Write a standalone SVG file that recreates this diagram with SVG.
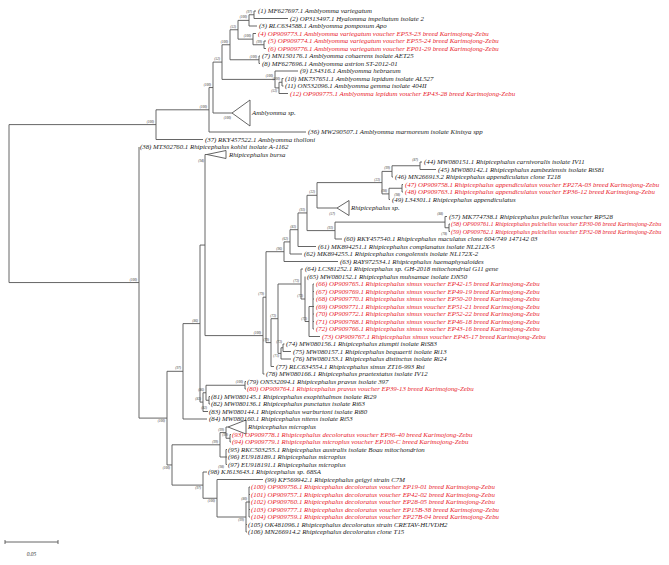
<svg xmlns="http://www.w3.org/2000/svg" width="669" height="565" viewBox="0 0 669 565">
<style>
.e{fill:none;stroke:#555;stroke-width:0.9}
.tri{fill:#fff;stroke:#555;stroke-width:0.9}
text{font-family:"Liberation Serif","Times New Roman",serif;font-style:italic}
.t{font-size:6.85px;fill:#222}
.r{font-size:6.85px;fill:#e8202a}
.r2{font-size:6.1px;fill:#e8202a}
.b{font-size:3.4px;fill:#333;text-anchor:end}
.s{font-size:5.5px;fill:#333;text-anchor:middle}
</style>
<rect width="669" height="565" fill="#fff"/>
<g id="connectors" class="e">
<path d="M9 124.6V282.55M9 124.6H156M156 109.8V139.5M156 139.5H203M156 109.8H209M209 87.55V132M209 132H306M209 87.55H213M213 62.1V113M213 113H232M213 62.1H222M222 44.75V79.4M222 44.75H230M230 29.75V59.75M230 29.75H238M238 20.375V39.125M238 20.375H249M249 14.75V26M249 26H257M249 14.75H254M254 11V18.5M254 11H256M254 18.5H288M238 39.125H253M253 33.5V44.75M253 33.5H256M253 44.75H264M264 41V48.5M264 41H266M264 48.5H266M230 59.75H259M259 56V63.5M259 56H260M259 63.5H260M222 79.4H275M275 71V87.9M275 71H298M275 87.9H279M279 82.25V93.5M279 93.5H288M279 82.25H282M282 78.5V86M282 78.5H283.5M282 86H283.5"/>
<path d="M9 282.55H139M139 147V418.1M139 418.1H167M167 371.3V464.95M167 371.3H183M183 323.6V419M183 419H207M183 323.6H200M200 245.05V402.1M200 245.05H205M205 154.5V335.6M205 154.5H207M205 335.6H263M263 297.2V374M263 374H264.5M263 297.2H266M266 251.7V342.6M266 251.7H284M284 241.9V261.5M284 261.5H338M284 241.9H290M290 229.7V254M290 254H302M290 229.7H298M298 212.95V246.5M298 246.5H316M298 212.95H307M307 195.3V230.6M307 195.3H317M317 182.6V208M317 208H337M317 182.6H382M382 171.4V193.9M382 171.4H392M392 165.75V177M392 177H393M392 165.75H420M420 162V169.5M420 162H422M420 169.5H436M382 193.9H389M389 188.25V199.5M389 199.5H390M389 188.25H402M402 184.5V192M402 184.5H403M402 192H403M307 230.6H335M335 222.1V239M335 239H342M335 222.1H445M445 216.5V227.75M445 216.5H447M445 227.75H449M449 224V231.5M449 224H450M449 231.5H450"/>
<path d="M266 342.6H271M271 318.7V366.5M271 366.5H274M271 318.7H278M278 284V353.4M278 284H301M301 269V299M301 269H303M301 299H305M305 276.5V321.5M305 321.5H309M309 306.5V336.5M309 336.5H320M309 306.5H313M313 284V329M313 284H314M313 291.5H314M313 299H314M313 306.5H314M313 314H314M313 321.5H314M313 329H314M278 353.4H281M281 347.75V359M281 359H291M281 347.75H283M283 344V351.5M283 344H284.5M283 351.5H291"/>
<path d="M200 402.1H203M203 392.75V411.5M203 411.5H208M203 392.75H206M206 385.25V400.25M206 385.25H245M245 381.5V389M245 381.5H246M245 389H246M206 400.25H209M209 396.5V404M209 396.5H210M209 404H210M167 464.95H172M172 444.8V485.1M172 444.8H220M220 432.6V457M220 432.6H226M226 427V438.25M226 427H228M226 438.25H230M230 434.5V442M230 434.5H231M230 442H231M220 457H226M226 449.5V464.5M226 449.5H227M226 457H227M226 464.5H227M172 485.1H203M203 472V498.25M203 472H207M203 498.25H217M217 479.5V517M217 479.5H263M217 517H246M246 502V532M246 524.5H247M246 532H247M246 502H249M249 487V517M249 487H250M249 494.5H250M249 502H250M249 509.5H250M249 517H250"/>
</g>
<g id="collapsed">
<polygon id="amblyomma-sp" class="tri" points="232,113 250,100 250,126"/>
<polygon id="bursa" class="tri" points="207,154.5 226,150.5 226,158.5"/>
<polygon id="rhip-sp" class="tri" points="337,208 349,200.5 349,215.5"/>
<polygon id="microplus" class="tri" points="228,427 246,420 246,434"/>
</g>
<g id="leaves">
<text id="n1" class="t" x="258" y="13.4">(1) MF627697.1 Amblyomma variegatum</text>
<text id="n2" class="t" x="290" y="20.9">(2) OP313497.1 Hyalomma impeltatum isolate 2</text>
<text id="n3" class="t" x="259" y="28.4">(3) RLC634588.1 Amblyomma pomposum Apo</text>
<text id="n4" class="r" x="258" y="35.9">(4) OP909773.1 Amblyomma variegatum voucher EP53-23 breed Karimojong-Zebu</text>
<text id="n5" class="r" x="268" y="43.4">(5) OP909774.1 Amblyomma variegatum voucher EP55-24 breed Karimojong-Zebu</text>
<text id="n6" class="r" x="268" y="50.9">(6) OP909776.1 Amblyomma variegatum voucher EP01-29 breed Karimojong-Zebu</text>
<text id="n7" class="t" x="262" y="58.4">(7) MN150176.1 Amblyomma cohaerens isolate AET25</text>
<text id="n8" class="t" x="262" y="65.9">(8) MF627696.1 Amblyomma astrion ST-2012-01</text>
<text id="n9" class="t" x="300" y="73.4">(9) L34316.1 Amblyomma hebraeum</text>
<text id="n10" class="t" x="285" y="80.9">(10) MK737651.1 Amblyomma lepidum isolate AL527</text>
<text id="n11" class="t" x="285" y="88.4">(11) ON532096.1 Amblyomma gemma isolate 404II</text>
<text id="n12" class="r" x="290" y="95.9">(12) OP909775.1 Amblyomma lepidum voucher EP43-28 breed Karimojong-Zebu</text>
<text id="namb" class="t" x="252" y="115.4">Amblyomma sp.</text>
<text id="n36" class="t" x="308" y="134.4">(36) MW290507.1 Amblyomma marmoreum isolate Kinisya spp</text>
<text id="n37" class="t" x="205" y="141.9">(37) RKY457522.1 Amblyomma tholloni</text>
<text id="n38" class="t" x="140" y="149.4">(38) MT302760.1 Rhipicephalus kohlsi isolate A-1162</text>
<text id="nbursa" class="t" x="229" y="156.9">Rhipicephalus bursa</text>
<text id="n44" class="t" x="424" y="164.4">(44) MW080151.1 Rhipicephalus carnivoralis isolate IV11</text>
<text id="n45" class="t" x="438" y="171.9">(45) MW080142.1 Rhipicephalus zambeziensis isolate RiS81</text>
<text id="n46" class="t" x="395" y="179.4">(46) MN266913.2 Rhipicephalus appendiculatus clone T218</text>
<text id="n47" class="r" x="405" y="186.9">(47) OP909758.1 Rhipicephalus appendiculatus voucher EP27A-03 breed Karimojong-Zebu</text>
<text id="n48" class="r" x="405" y="194.4">(48) OP909763.1 Rhipicephalus appendiculatus voucher EP36-12 breed Karimojong-Zebu</text>
<text id="n49" class="t" x="392" y="201.9">(49) L34301.1 Rhipicephalus appendiculatus</text>
<text id="nrsp" class="t" x="351" y="210.4">Rhipicephalus sp.</text>
<text id="n57" class="t" x="449" y="218.9">(57) MK774738.1 Rhipicephalus pulchellus voucher RP528</text>
<text id="n58" class="r2" x="451" y="226.4">(58) OP909761.1 Rhipicephalus pulchellus voucher EP30-06 breed Karimojong-Zebu</text>
<text id="n59" class="r2" x="451" y="233.9">(59) OP909762.1 Rhipicephalus pulchellus voucher EP32-08 breed Karimojong-Zebu</text>
<text id="n60" class="t" x="344" y="241.4">(60) RKY457540.1 Rhipicephalus maculatus clone 604/749 147142 03</text>
<text id="n61" class="t" x="318" y="248.9">(61) MK894251.1 Rhipicephalus complanatus isolate NL212X-5</text>
<text id="n62" class="t" x="304" y="256.4">(62) MK894255.1 Rhipicephalus congolensis isolate NL172X-2</text>
<text id="n63" class="t" x="340" y="263.9">(63) RAY972534.1 Rhipicephalus haemaphysaloides</text>
<text id="n64" class="t" x="305" y="271.4">(64) LC381252.1 Rhipicephalus sp. GH-2018 mitochondrial G11 gene</text>
<text id="n65" class="t" x="307" y="278.9">(65) MW080152.1 Rhipicephalus muhsamae isolate DN50</text>
<text id="n66" class="r" x="316" y="286.4">(66) OP909765.1 Rhipicephalus simus voucher EP42-15 breed Karimojong-Zebu</text>
<text id="n67" class="r" x="316" y="293.9">(67) OP909769.1 Rhipicephalus simus voucher EP49-19 breed Karimojong-Zebu</text>
<text id="n68" class="r" x="316" y="301.4">(68) OP909770.1 Rhipicephalus simus voucher EP50-20 breed Karimojong-Zebu</text>
<text id="n69" class="r" x="316" y="308.9">(69) OP909771.1 Rhipicephalus simus voucher EP51-21 breed Karimojong-Zebu</text>
<text id="n70" class="r" x="316" y="316.4">(70) OP909772.1 Rhipicephalus simus voucher EP52-22 breed Karimojong-Zebu</text>
<text id="n71" class="r" x="316" y="323.9">(71) OP909768.1 Rhipicephalus simus voucher EP46-18 breed Karimojong-Zebu</text>
<text id="n72" class="r" x="316" y="331.4">(72) OP909766.1 Rhipicephalus simus voucher EP43-16 breed Karimojong-Zebu</text>
<text id="n73" class="r" x="322" y="338.9">(73) OP909767.1 Rhipicephalus simus voucher EP45-17 breed Karimojong-Zebu</text>
<text id="n74" class="t" x="286" y="346.4">(74) MW080156.1 Rhipicephalus ziumpti isolate RiS83</text>
<text id="n75" class="t" x="293" y="353.9">(75) MW080157.1 Rhipicephalus bequaerti isolate Ri13</text>
<text id="n76" class="t" x="293" y="361.4">(76) MW080153.1 Rhipicephalus distinctus isolate Ri24</text>
<text id="n77" class="t" x="276" y="368.9">(77) RLC634554.1 Rhipicephalus simus ZT16-993 Rsi</text>
<text id="n78" class="t" x="266" y="376.4">(78) MW080166.1 Rhipicephalus praetextatus isolate IV12</text>
<text id="n79" class="t" x="247" y="383.9">(79) ON532094.1 Rhipicephalus pravus isolate 397</text>
<text id="n80" class="r" x="247" y="391.4">(80) OP909764.1 Rhipicephalus pravus voucher EP39-13 breed Karimojong-Zebu</text>
<text id="n81" class="t" x="211" y="398.9">(81) MW080145.1 Rhipicephalus exophthalmos isolate Ri29</text>
<text id="n82" class="t" x="211" y="406.4">(82) MW080136.1 Rhipicephalus punctatus isolate Ri63</text>
<text id="n83" class="t" x="209" y="413.9">(83) MW080144.1 Rhipicephalus warburtoni isolate Ri80</text>
<text id="n84" class="t" x="209" y="421.4">(84) MW080160.1 Rhipicephalus nitens isolate Ri53</text>
<text id="nmicro" class="t" x="248" y="429.4">Rhipicephalus microplus</text>
<text id="n93" class="r" x="232" y="436.9">(93) OP909778.1 Rhipicephalus decoloratus voucher EP36-40 breed Karimojong-Zebu</text>
<text id="n94" class="r" x="232" y="444.4">(94) OP909779.1 Rhipicephalus microplus voucher EP100-C breed Karimojong-Zebu</text>
<text id="n95" class="t" x="228" y="451.9">(95) RKC503255.1 Rhipicephalus australis isolate Boau mitochondrion</text>
<text id="n96" class="t" x="228" y="459.4">(96) EU918189.1 Rhipicephalus microplus</text>
<text id="n97" class="t" x="228" y="466.9">(97) EU918191.1 Rhipicephalus microplus</text>
<text id="n98" class="t" x="208" y="474.4">(98) KJ613643.1 Rhipicephalus sp. 68SA</text>
<text id="n99" class="t" x="265" y="481.9">(99) KF569942.1 Rhipicephalus geigyi strain C7M</text>
<text id="n100" class="r" x="251" y="489.4">(100) OP909756.1 Rhipicephalus decoloratus voucher EP19-01 breed Karimojong-Zebu</text>
<text id="n101" class="r" x="251" y="496.9">(101) OP909757.1 Rhipicephalus decoloratus voucher EP42-02 breed Karimojong-Zebu</text>
<text id="n102" class="r" x="251" y="504.4">(102) OP909760.1 Rhipicephalus decoloratus voucher EP28-05 breed Karimojong-Zebu</text>
<text id="n103" class="r" x="251" y="511.9">(103) OP909777.1 Rhipicephalus decoloratus voucher EP15B-38 breed Karimojong-Zebu</text>
<text id="n104" class="r" x="251" y="519.4">(104) OP909759.1 Rhipicephalus decoloratus voucher EP27B-04 breed Karimojong-Zebu</text>
<text id="n105" class="t" x="248" y="526.9">(105) OK481096.1 Rhipicephalus decoloratus strain CRETAV-HUVDH2</text>
<text id="n106" class="t" x="248" y="534.4">(106) MN266914.2 Rhipicephalus decoloratus clone T15</text>
</g>
<g id="support" class="b">
<text x="154" y="122.6">(100)</text><text x="207" y="107.8">(100)</text><text x="211" y="85.5">(100)</text><text x="220" y="60.1">(52)</text><text x="228" y="42.7">(100)</text><text x="236" y="27.7">(53)</text><text x="247" y="18.4">(100)</text><text x="252" y="12.7">(97)</text><text x="251" y="37.1">(100)</text><text x="262" y="42.7">(99)</text><text x="257" y="57.7">(100)</text><text x="273" y="77.4">(100)</text><text x="277" y="91.5">(53)</text><text x="280" y="80.2">(100)</text><text x="231" y="119">(100)</text>
<text x="137" y="280.5">(100)</text><text x="165" y="422">(100)</text><text x="181" y="369.3">(97)</text><text x="198" y="321.6">(86)</text><text x="204" y="162">(94)</text><text x="261" y="333.6">(100)</text><text x="264" y="295.2">(79)</text><text x="282" y="249.7">(96)</text><text x="288" y="239.9">(62)</text><text x="296" y="227.7">(83)</text><text x="305" y="210.9">(93)</text><text x="315" y="193.3">(32)</text><text x="380" y="180.6">(33)</text><text x="390" y="169.4">(99)</text><text x="418" y="160.7">(87)</text><text x="387" y="191.9">(98)</text><text x="400" y="196">(98)</text><text x="333" y="228.6">(93)</text><text x="443" y="215.1">(88)</text><text x="447" y="235">(78)</text><text x="335" y="215">(57)</text>
<text x="269" y="340.6">(79)</text><text x="276" y="316.7">(73)</text><text x="299" y="282">(73)</text><text x="303" y="297">(73)</text><text x="307" y="319.5">(73)</text><text x="279" y="357">(71)</text><text x="282" y="342.7">(73)</text>
<text x="201" y="400.1">(83)</text><text x="204" y="390.7">(86)</text><text x="243" y="383.2">(100)</text><text x="207" y="409">(82)</text><text x="170" y="469">(100)</text><text x="218" y="442.8">(99)</text><text x="224" y="430.6">(99)</text><text x="228" y="436.2">(99)</text><text x="224" y="468">(98)</text><text x="201" y="489">(97)</text><text x="215" y="502">(100)</text><text x="244" y="521">(99)</text><text x="247" y="500">(80)</text>
</g>
<g id="scale">
<path class="e" d="M5 542H58M5 540V544M58 540V544"/>
<text class="s" x="31.5" y="556">0.05</text>
</g>
</svg>
